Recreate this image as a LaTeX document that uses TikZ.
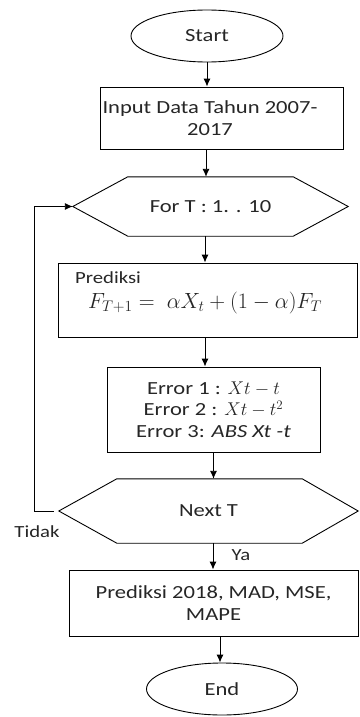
\RequirePackage{fix-cm}
\documentclass[tikz,border=0pt]{standalone}
\usepackage{fontspec}
\setmainfont{Carlito}[FakeStretch=1.22]
\usetikzlibrary{shapes.geometric,arrows.meta}
\begin{document}
\begin{tikzpicture}[x=1pt,y=-1pt,
  every node/.style={font=\fontsize{18.5}{21.5}\selectfont,text=black!85},
  term/.style={draw=black,ellipse,line width=0.9pt,inner sep=0pt},
  procbox/.style={draw=black,rectangle,line width=0.9pt,inner sep=0pt,align=center},
  hexbox/.style={rectangle,inner sep=0pt,align=center},
  hexline/.style={line width=0.9pt,line join=miter},
  flow/.style={line width=0.9pt,-{Latex[length=8pt,width=7pt]}},
  lbl/.style={inner sep=0pt,align=center}]
\useasboundingbox (0,0) rectangle (359,717);

\node[term,minimum width=152pt,minimum height=52pt] (start) at (207,36) {Start};
\node[procbox,minimum width=243pt,minimum height=62pt] (input) at (221.5,118) {};
\node[lbl] (inputtxt) at (210,118) {Input Data Tahun 2007-\\2017};
\node[hexbox,minimum width=275pt,minimum height=59pt] (for) at (210.5,206.5) {For T : 1. . 10};
\draw[hexline] (for.west) -- ([xshift=55pt]for.north west) -- ([xshift=-55pt]for.north east) -- (for.east) -- ([xshift=-55pt]for.south east) -- ([xshift=55pt]for.south west) -- cycle;
\node[procbox,minimum width=299pt,minimum height=74pt] (pred) at (207.5,300) {};
\node[lbl,anchor=west,font=\fontsize{17}{20}\selectfont] (predlbl) at (75,278) {Prediksi};
\node[lbl,font=\fontsize{22}{25}\selectfont] (formula) at (205,303) {$F_{T+1} =\; \alpha X_t + (1-\alpha)F_T$};
\node[procbox,minimum width=213pt,minimum height=85pt] (error) at (213.5,409.5) {Error 1 : $Xt - t$\\Error 2 : $Xt - t^2$\\Error 3: \textit{ABS Xt -t}};
\node[hexbox,minimum width=299pt,minimum height=64pt] (next) at (208.5,511) {Next T};
\draw[hexline] (next.west) -- ([xshift=58pt]next.north west) -- ([xshift=-56pt]next.north east) -- (next.east) -- ([xshift=-56pt]next.south east) -- ([xshift=58pt]next.south west) -- cycle;
\node[procbox,minimum width=289pt,minimum height=66pt] (final) at (213.5,603) {Prediksi 2018, MAD, MSE,\\MAPE};
\node[term,minimum width=151pt,minimum height=52pt] (end) at (222,689) {End};

\coordinate (loopx) at (34,0);

\draw[flow] (start.south) -- (start.south |- input.north);
\draw[flow] ([xshift=-15.5pt]input.south) -- ([xshift=-15.5pt]input.south |- for.north);
\draw[flow] ([xshift=-5.5pt]for.south) -- ([xshift=-5.5pt]for.south |- pred.north);
\draw[flow] ([xshift=-2.5pt]pred.south) -- ([xshift=-2.5pt]pred.south |- error.north);
\draw[flow] (error.south) -- (error.south |- next.north);
\draw[flow] ([xshift=4.5pt]next.south) -- ([xshift=4.5pt]next.south |- final.north);
\draw[flow] ([xshift=6.5pt]final.south) -- ([xshift=6.5pt]final.south |- end.north);
\draw[flow] ([xshift=-5pt]next.west) -- (loopx |- next.west) -- (loopx |- for.west) -- (for.west);

\node[lbl,font=\fontsize{17}{20}\selectfont] (tidak) at (37,532) {Tidak};
\node[lbl,font=\fontsize{17}{20}\selectfont] (ya) at (241,555) {Ya};
\end{tikzpicture}
\end{document}
